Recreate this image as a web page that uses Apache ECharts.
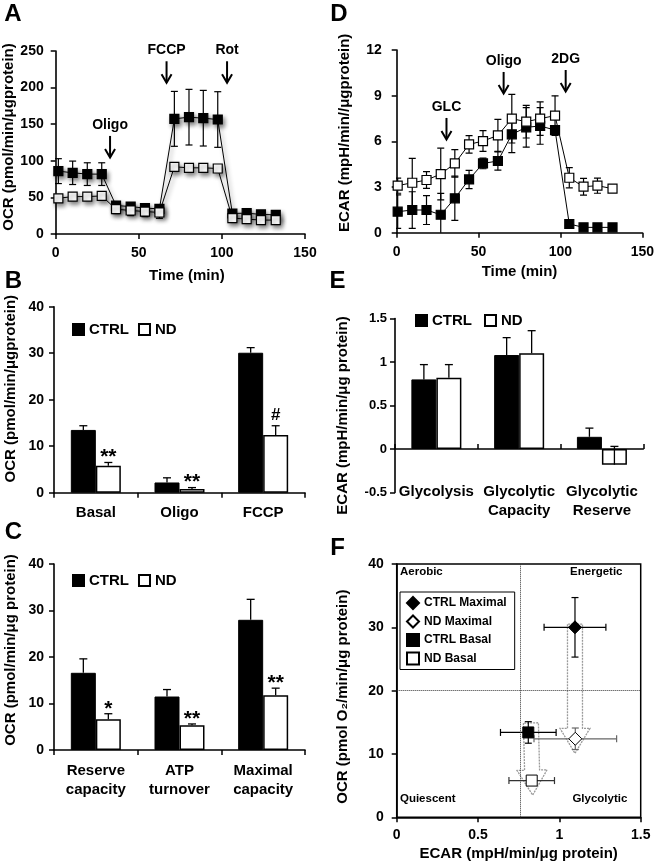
<!DOCTYPE html>
<html><head><meta charset="utf-8">
<script src="https://cdn.jsdelivr.net/npm/echarts@6/dist/echarts.min.js"></script>
<style>html,body{margin:0;padding:0;background:#fff}#c{width:657px;height:867px}</style>
</head><body><div id="c"></div><script>
const FONT = '"Liberation Sans", Arial, Helvetica, sans-serif';

// ---------- Panel A : OCR time course ----------
const timeA = [1.6, 10.2, 19.0, 27.7, 36.3, 45.1, 53.7, 62.4, 71.4, 80.2, 88.8, 97.5, 106.3, 114.9, 123.5, 132.4];
const ctrlA = [85.9, 83.6, 81.8, 81.8, 38.9, 37.5, 35.3, 34.4, 157.3, 159.6, 158.2, 156.4, 28.0, 28.5, 26.7, 26.2];
const ctrlAErr = [17, 16, 15.5, 15.5, 4, 4, 5, 5, 37.5, 38, 38, 38, 2, 2, 2, 2];
const ndA = [48.8, 51.1, 51.1, 52.0, 33.9, 32.1, 30.7, 29.4, 91.8, 90.4, 90.4, 89.5, 21.7, 20.3, 19.0, 19.0];
const ndAErr = [3, 3, 3, 3, 6, 7, 7, 8, 3, 3, 3, 3, 2, 2, 2, 2];
const injLabelA = ['Oligo', 'FCCP', 'Rot'];
const injTimeA = [32.7, 66.7, 103.1];
const injValA = [149, 251, 251];

// ---------- Panel D : ECAR time course ----------
const timeD = [0.6, 9.5, 18.2, 26.9, 35.5, 44.2, 52.7, 61.8, 70.3, 79.1, 87.6, 96.7, 105.4, 114.1, 122.6, 131.8];
const ctrlD = [1.38, 1.49, 1.49, 1.18, 2.26, 3.50, 4.55, 4.71, 6.46, 6.92, 7.01, 6.74, 0.57, 0.35, 0.35, 0.35];
const ctrlDErr = [1.1, 1.2, 0.95, 1.4, 1.45, 0.6, 0.35, 0.6, 1.2, 1.3, 1.2, 0.3, 0.1, 0.1, 0.1, 0.1];
const ndD = [3.09, 3.28, 3.46, 3.85, 4.55, 5.80, 6.02, 6.39, 7.49, 7.29, 7.49, 7.69, 3.61, 3.02, 3.09, 2.89];
const ndDErr = [0.5, 1.6, 0.55, 1.7, 0.9, 0.57, 0.68, 1.05, 1.6, 1.07, 1.1, 1.3, 0.66, 0.55, 0.5, 0.1];
const injLabelD = ['GLC', 'Oligo', '2DG'];
const injTimeD = [30.4, 65.3, 103.2];
const injValD = [8.26, 11.28, 11.41];

// ---------- Panel B ----------
const catB = ['Basal', 'Oligo', 'FCCP'];
const ctrlB = [13.5, 2.2, 30.1];
const ctrlBErr = [0.9, 1.0, 1.1];
const ndB = [5.8, 0.8, 12.4];
const ndBErr = [0.7, 0.3, 2.0];
const sigB = ['**', '**', '#'];

// ---------- Panel E ----------
const catE = ['Glycolysis', 'Glycolytic\nCapacity', 'Glycolytic\nReserve'];
const ctrlE = [0.80, 1.08, 0.14];
const ctrlEErr = [0.17, 0.20, 0.10];
const ndE = [0.82, 1.10, -0.18];
const ndEErr = [0.15, 0.26, 0.21];

// ---------- Panel C ----------
const catC = ['Reserve\ncapacity', 'ATP\nturnover', 'Maximal\ncapacity'];
const ctrlC = [16.6, 11.5, 28.0];
const ctrlCErr = [3.0, 1.5, 4.4];
const ndC = [6.6, 5.3, 11.8];
const ndCErr = [1.2, 0.3, 1.5];
const sigC = ['*', '**', '**'];

// ---------- Panel F : energy map ----------
const fNames = ['CTRL Maximal', 'ND Maximal', 'CTRL Basal', 'ND Basal'];
const fEcar = [1.096, 1.098, 0.809, 0.830];
const fOcr = [30.0, 12.4, 13.4, 5.8];
const fEcarErr = [0.19, 0.254, 0.171, 0.14];
const fOcrErr = [4.7, 1.7, 1.7, 0.5];
const fArrows = [[1.096, 30.5, 1.096, 10.1], [0.825, 14.9, 0.836, 3.5]]; // [x0,y0,x1,y1]
const ecarThreshold = 0.755;
const ocrThreshold = 20;
const quadLabels = ['Aerobic', 'Energetic', 'Quiescent', 'Glycolytic'];
const quadX = [0.02, 1.066, 0.02, 1.08];
const quadY = [38.8, 38.8, 2.9, 2.9];

// ---------- helpers ----------
const L = (x1, y1, x2, y2, c, w) => ({ type: 'line', shape: { x1, y1, x2, y2 }, style: { stroke: c || '#000', lineWidth: w || 1.2 } });
const axLine = { show: true, onZero: false, lineStyle: { color: '#000', width: 1.6 } };
const axTick = { show: true, length: 5, lineStyle: { color: '#000', width: 1.5 } };
const lbl = (size, margin, extra) => Object.assign({ color: '#000', fontSize: size, fontWeight: 'bold', fontFamily: FONT, margin }, extra || {});
const nameStyle = (pad) => ({ color: '#000', fontSize: 15, fontWeight: 'bold', fontFamily: FONT, padding: pad || 0 });

function valAxis(grid, min, max, interval, margin, size, extra) {
  return Object.assign({ type: 'value', gridIndex: grid, min, max, interval, splitLine: { show: false },
    axisLine: axLine, axisTick: axTick, axisLabel: lbl(size || 14, margin) }, extra || {});
}
function catAxis(grid, data, margin, extra) {
  return Object.assign({ type: 'category', gridIndex: grid, data, boundaryGap: true,
    axisLine: axLine, axisTick: Object.assign({ alignWithLabel: false }, axTick),
    axisLabel: lbl(15, margin, { lineHeight: 19, interval: 0 }) }, extra || {});
}

const shadow = { shadowColor: 'rgba(0,0,0,0.45)', shadowBlur: 4, shadowOffsetX: 2, shadowOffsetY: 3 };
function lineSeries(xi, yi, xs, ys, filled, withShadow, name) {
  return { type: 'line', name, xAxisIndex: xi, yAxisIndex: yi, data: xs.map((t, i) => [t, ys[i]]),
    symbol: 'rect', symbolSize: 9, z: 4,
    itemStyle: Object.assign({ color: filled ? '#000' : '#fff', borderColor: '#000', borderWidth: 1.2, opacity: 1 }, withShadow ? shadow : {}),
    lineStyle: Object.assign({ color: '#000', width: 1 }, withShadow ? shadow : {}) };
}
function vErrSeries(xi, yi, xs, ys, es) {
  return { type: 'custom', xAxisIndex: xi, yAxisIndex: yi, clip: true, z: 3, silent: true,
    data: xs.map((t, i) => [t, ys[i], es[i]]),
    renderItem: (p, api) => {
      const x = api.value(0), y = api.value(1), e = api.value(2);
      const a = api.coord([x, y + e]), b = api.coord([x, y - e]), w = 3.5;
      return { type: 'group', children: [L(a[0], a[1], b[0], b[1]), L(a[0] - w, a[1], a[0] + w, a[1]), L(b[0] - w, b[1], b[0] + w, b[1])] };
    } };
}
function injSeries(xi, yi, labels, xs, ys) {
  return { type: 'custom', xAxisIndex: xi, yAxisIndex: yi, silent: true, z: 6, clip: false,
    data: xs.map((t, i) => [t, ys[i]]),
    renderItem: (p, api) => {
      const c = api.coord([api.value(0), api.value(1)]), x = c[0], y = c[1];
      return { type: 'group', children: [
        { type: 'text', style: { text: labels[p.dataIndex], x, y, fill: '#000', font: 'bold 14px ' + FONT, align: 'center', verticalAlign: 'middle' } },
        { type: 'polyline', shape: { points: [[x, y + 11], [x, y + 32]] }, style: { stroke: '#000', lineWidth: 2, fill: null } },
        { type: 'polyline', shape: { points: [[x - 5, y + 24], [x, y + 32.5], [x + 5, y + 24]] }, style: { stroke: '#000', lineWidth: 2, fill: null } }
      ] };
    } };
}
function barSeries(name, xi, yi, vals) {
  const open = name === 'ND';
  return { type: 'bar', name, xAxisIndex: xi, yAxisIndex: yi, data: vals, barWidth: 25, barGap: '0%', z: 2,
    itemStyle: open ? { color: '#fff', borderColor: '#000', borderWidth: 1.5 } : { color: '#000', borderColor: '#000', borderWidth: 1 } };
}
function barErrSeries(xi, yi, vals, errs, dx, sig) {
  return { type: 'custom', xAxisIndex: xi, yAxisIndex: yi, silent: true, z: 5, clip: false,
    data: vals.map((v, i) => [i, v, errs[i]]),
    renderItem: (p, api) => {
      const i = api.value(0), v = api.value(1), e = api.value(2);
      const base = api.coord([i, v]), top = api.coord([i, v + e]);
      const x = base[0] + dx;
      const ch = [L(x, base[1], x, top[1], '#000', 1.3), L(x - 4, top[1], x + 4, top[1], '#000', 1.3)];
      if (sig) {
        const s = sig[p.dataIndex];
        const isHash = s === '#';
        ch.push({ type: 'text', style: { text: s, x, y: top[1] - (isHash ? 10 : 5), fill: '#000',
          font: 'bold ' + (isHash ? 17 : 21) + 'px ' + FONT, align: 'center', verticalAlign: 'middle' } });
      }
      return { type: 'group', children: ch };
    } };
}

const letters = [['A', 13, 14], ['B', 13.5, 281.5], ['C', 13.5, 532], ['D', 339, 14], ['E', 337.5, 281.5], ['F', 337.5, 548.5]];

const option = {
  animation: false,
  backgroundColor: '#fff',
  textStyle: { fontFamily: FONT },
  grid: [
    { left: 55.7, top: 51, width: 249.3, height: 183 },     // A
    { left: 396.7, top: 50, width: 246.6, height: 182.7 },  // D
    { left: 54, top: 306.7, width: 251, height: 186 },      // B
    { left: 395, top: 318.5, width: 248.3, height: 174 },   // E
    { left: 54, top: 564, width: 251, height: 186 },        // C
    { left: 396.7, top: 564, width: 244, height: 253.3, show: true, borderColor: '#000', borderWidth: 1.5 } // F
  ],
  xAxis: [
    valAxis(0, 0, 150, 50, 12, 14, { name: 'Time (min)', nameLocation: 'middle', nameGap: 34, nameTextStyle: nameStyle([0, 0, 0, 13]) }),
    valAxis(1, 0, 150, 50, 12, 14, { name: 'Time (min)', nameLocation: 'middle', nameGap: 32, nameTextStyle: nameStyle() }),
    catAxis(2, catB, 11),
    catAxis(3, catE, -10, { axisLine: { show: false, onZero: false }, axisTick: { show: false } }),
    catAxis(3, catE, 0, { axisLine: { show: true, onZero: true, lineStyle: { color: '#000', width: 1.6 } }, axisLabel: { show: false } }),
    catAxis(4, catC, 11),
    valAxis(5, 0, 1.5, 0.5, 11, 14, { name: 'ECAR (mpH/min/μg protein)', nameLocation: 'middle', nameGap: 29, nameTextStyle: nameStyle() })
  ],
  yAxis: [
    valAxis(0, 0, 250, 50, 12, 14, { name: 'OCR (pmol/min/μgprotein)', nameLocation: 'middle', nameGap: 38, nameTextStyle: nameStyle([0, 0, 0, 11]) }),
    valAxis(1, 0, 12, 3, 15, 14, { name: 'ECAR (mpH/min//μgprotein)', nameLocation: 'middle', nameGap: 44, nameTextStyle: nameStyle([0, 0, 0, 17]) }),
    valAxis(2, 0, 40, 10, 10, 14, { name: 'OCR (pmol/min/μgprotein)', nameLocation: 'middle', nameGap: 36, nameTextStyle: nameStyle([0, 0, 0, 22]) }),
    valAxis(3, -0.5, 1.5, 0.5, 8, 13, { name: 'ECAR (mpH/min/μg protein)', nameLocation: 'middle', nameGap: 45, nameTextStyle: nameStyle([0, 20, 0, 0]) }),
    valAxis(4, 0, 40, 10, 10, 14, { name: 'OCR (pmol/min/μg protein)', nameLocation: 'middle', nameGap: 36, nameTextStyle: nameStyle([0, 0, 0, 14]) }),
    valAxis(5, 0, 40, 10, 13, 14, { name: 'OCR (pmol O₂/min/μg protein)', nameLocation: 'middle', nameGap: 46, nameTextStyle: nameStyle([0, 12, 0, 0]) })
  ],
  legend: [
    { data: ['CTRL', 'ND'], left: 72, top: 322, padding: 0, itemWidth: 11, itemHeight: 11, itemGap: 9, icon: 'rect', selectedMode: false,
      textStyle: { color: '#000', fontSize: 15, fontWeight: 'bold', fontFamily: FONT } },
    { data: ['CTRL', 'ND'], left: 72, top: 573, padding: 0, itemWidth: 11, itemHeight: 11, itemGap: 9, icon: 'rect', selectedMode: false,
      textStyle: { color: '#000', fontSize: 15, fontWeight: 'bold', fontFamily: FONT } },
    { data: ['CTRL', 'ND'], left: 415, top: 313, padding: 0, itemWidth: 11, itemHeight: 11, itemGap: 12, icon: 'rect', selectedMode: false,
      textStyle: { color: '#000', fontSize: 15, fontWeight: 'bold', fontFamily: FONT } },
    { data: fNames, orient: 'vertical', left: 400, top: 592, padding: [4, 8, 4, 6], itemGap: 4.5, itemWidth: 12, itemHeight: 12,
      borderColor: '#000', borderWidth: 1, backgroundColor: '#fff', selectedMode: false,
      itemStyle: { opacity: 1 },
      textStyle: { color: '#000', fontSize: 12, fontWeight: 'bold', fontFamily: FONT } }
  ],
  graphic: letters.map(l => ({ type: 'text', x: l[1], y: l[2], style: { text: l[0], font: 'bold 24px ' + FONT, fill: '#000',
    align: 'center', verticalAlign: 'middle', textAlign: 'center', textVerticalAlign: 'middle' } })),
  series: [
    // A
    vErrSeries(0, 0, timeA, ctrlA, ctrlAErr),
    vErrSeries(0, 0, timeA, ndA, ndAErr),
    lineSeries(0, 0, timeA, ctrlA, true, true, 'A CTRL'),
    lineSeries(0, 0, timeA, ndA, false, true, 'A ND'),
    injSeries(0, 0, injLabelA, injTimeA, injValA),
    // D
    vErrSeries(1, 1, timeD, ctrlD, ctrlDErr),
    vErrSeries(1, 1, timeD, ndD, ndDErr),
    lineSeries(1, 1, timeD, ctrlD, true, false, 'D CTRL'),
    lineSeries(1, 1, timeD, ndD, false, false, 'D ND'),
    injSeries(1, 1, injLabelD, injTimeD, injValD),
    // B
    barSeries('CTRL', 2, 2, ctrlB),
    barSeries('ND', 2, 2, ndB),
    barErrSeries(2, 2, ctrlB, ctrlBErr, -12.5),
    barErrSeries(2, 2, ndB, ndBErr, 12.5, sigB),
    // E
    barSeries('CTRL', 3, 3, ctrlE),
    barSeries('ND', 3, 3, ndE),
    barErrSeries(3, 3, ctrlE, ctrlEErr, -12.5),
    barErrSeries(3, 3, ndE, ndEErr, 12.5),
    // C
    barSeries('CTRL', 5, 4, ctrlC),
    barSeries('ND', 5, 4, ndC),
    barErrSeries(5, 4, ctrlC, ctrlCErr, -12.5),
    barErrSeries(5, 4, ndC, ndCErr, 12.5, sigC),
    // F arrows
    { type: 'custom', xAxisIndex: 6, yAxisIndex: 5, silent: true, z: 1, data: fArrows,
      renderItem: (p, api) => {
        const d = fArrows[p.dataIndex];
        const a = api.coord([d[0], d[1]]), b = api.coord([d[2], d[3]]);
        const dx = b[0] - a[0], dy = b[1] - a[1], len = Math.hypot(dx, dy);
        const ux = dx / len, uy = dy / len, nx = -uy, ny = ux;
        const hl = 25, sw = 7.5, hw = 15;
        const bx = b[0] - ux * hl, by = b[1] - uy * hl;
        const pts = [[a[0] + nx * sw, a[1] + ny * sw], [bx + nx * sw, by + ny * sw], [bx + nx * hw, by + ny * hw], [b[0], b[1]],
          [bx - nx * hw, by - ny * hw], [bx - nx * sw, by - ny * sw], [a[0] - nx * sw, a[1] - ny * sw]];
        return { type: 'polygon', shape: { points: pts }, style: { fill: 'rgba(255,255,255,0.5)', stroke: '#9a9a9a', lineWidth: 1.3, lineDash: [2, 1] } };
      } },
    // F quadrant labels
    { type: 'custom', xAxisIndex: 6, yAxisIndex: 5, silent: true, z: 2, data: quadX.map((x, i) => [x, quadY[i]]),
      renderItem: (p, api) => {
        const c = api.coord([api.value(0), api.value(1)]);
        return { type: 'text', style: { text: quadLabels[p.dataIndex], x: c[0], y: c[1], fill: '#000', font: 'bold 11.5px ' + FONT, align: 'left', verticalAlign: 'middle' } };
      } },
    // F error bars
    { type: 'custom', xAxisIndex: 6, yAxisIndex: 5, silent: true, z: 3, data: fEcar.map((x, i) => [x, fOcr[i], fEcarErr[i], fOcrErr[i]]),
      renderItem: (p, api) => {
        const x = api.value(0), y = api.value(1), ex = api.value(2), ey = api.value(3);
        const col = ['#000', '#666', '#000', '#333'][p.dataIndex];
        const l = api.coord([x - ex, y]), r = api.coord([x + ex, y]), t = api.coord([x, y + ey]), b = api.coord([x, y - ey]);
        const w = 3.5;
        return { type: 'group', children: [
          L(l[0], l[1], r[0], r[1], col), L(l[0], l[1] - w, l[0], l[1] + w, col), L(r[0], r[1] - w, r[0], r[1] + w, col),
          L(t[0], t[1], b[0], b[1], col), L(t[0] - w, t[1], t[0] + w, t[1], col), L(b[0] - w, b[1], b[0] + w, b[1], col)
        ] };
      } },
    // F points
    { name: fNames[0], type: 'scatter', xAxisIndex: 6, yAxisIndex: 5, z: 5, symbol: 'diamond', symbolSize: 13,
      data: [[fEcar[0], fOcr[0]]], itemStyle: { color: '#000', borderColor: '#000', borderWidth: 1, opacity: 1 },
      markLine: { silent: true, symbol: 'none', label: { show: false }, animation: false,
        lineStyle: { type: 'dotted', color: '#333', width: 1 },
        data: [{ xAxis: ecarThreshold }, { yAxis: ocrThreshold }] } },
    { name: fNames[1], type: 'scatter', xAxisIndex: 6, yAxisIndex: 5, z: 5, symbol: 'diamond', symbolSize: 13,
      data: [[fEcar[1], fOcr[1]]], itemStyle: { color: '#fff', borderColor: '#000', borderWidth: 1, opacity: 1 } },
    { name: fNames[2], type: 'scatter', xAxisIndex: 6, yAxisIndex: 5, z: 5, symbol: 'rect', symbolSize: 11,
      data: [[fEcar[2], fOcr[2]]], itemStyle: { color: '#000', borderColor: '#000', borderWidth: 1, opacity: 1 } },
    { name: fNames[3], type: 'scatter', xAxisIndex: 6, yAxisIndex: 5, z: 5, symbol: 'rect', symbolSize: 11,
      data: [[fEcar[3], fOcr[3]]], itemStyle: { color: '#fff', borderColor: '#000', borderWidth: 1, opacity: 1 } }
  ]
};

const chart = echarts.init(document.getElementById('c'), null, { renderer: 'canvas' });
chart.setOption(option);
</script></body></html>
